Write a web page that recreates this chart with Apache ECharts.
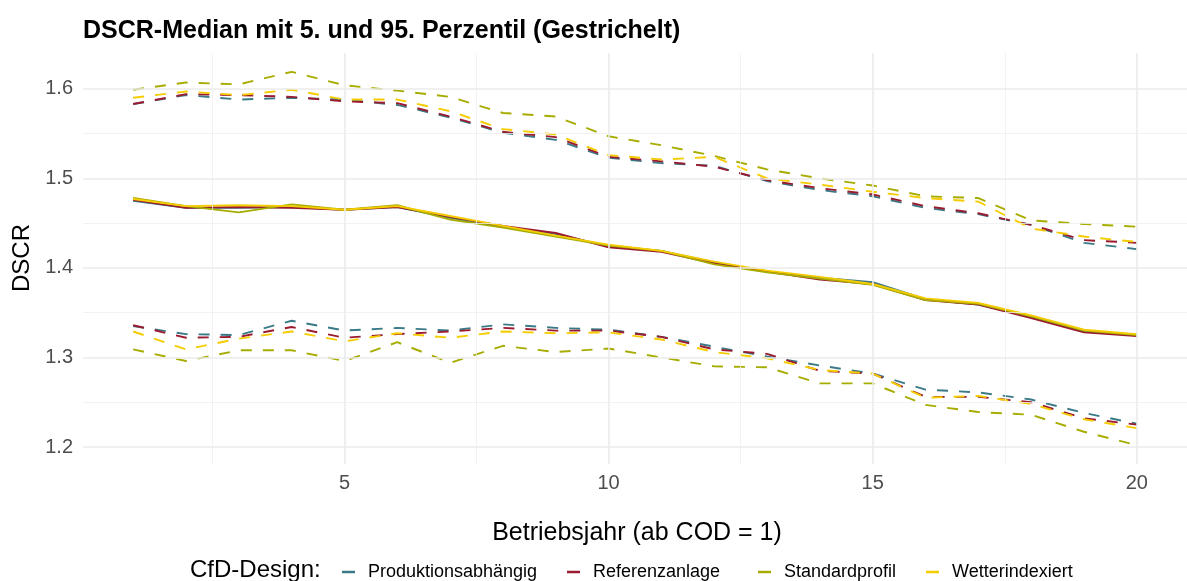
<!DOCTYPE html>
<html><head><meta charset="utf-8">
<script src="https://cdn.jsdelivr.net/npm/echarts@6/dist/echarts.min.js"></script>
<style>html,body{margin:0;padding:0;background:#fff}#c{width:1187px;height:581px}</style>
</head><body><div id="c"></div><script>
const years = [1,2,3,4,5,6,7,8,9,10,11,12,13,14,15,16,17,18,19,20];
const designs = ['Produktionsabhängig','Referenzanlage','Standardprofil','Wetterindexiert'];
const colors = ['#3A7A86','#9B1B30','#A7AD00','#F5CC00'];

const prodMed = [1.475,1.467,1.467,1.468,1.465,1.468,1.456,1.446,1.438,1.424,1.419,1.406,1.396,1.389,1.384,1.365,1.359,1.345,1.329,1.325];
const refMed  = [1.476,1.467,1.468,1.467,1.465,1.468,1.457,1.447,1.439,1.423,1.418,1.405,1.396,1.387,1.382,1.364,1.359,1.344,1.328,1.324];
const stdMed  = [1.478,1.469,1.462,1.471,1.465,1.470,1.454,1.445,1.435,1.425,1.419,1.404,1.395,1.388,1.381,1.364,1.360,1.346,1.330,1.325];
const wetMed  = [1.477,1.469,1.470,1.469,1.465,1.469,1.458,1.447,1.436,1.426,1.419,1.407,1.397,1.390,1.382,1.366,1.361,1.347,1.331,1.326];

const prodP95 = [1.583,1.593,1.588,1.590,1.588,1.582,1.568,1.551,1.543,1.523,1.517,1.514,1.497,1.487,1.480,1.467,1.460,1.448,1.428,1.421];
const refP95  = [1.583,1.594,1.593,1.591,1.586,1.584,1.569,1.552,1.546,1.524,1.519,1.513,1.498,1.489,1.482,1.469,1.461,1.448,1.431,1.428];
const stdP95  = [1.599,1.607,1.605,1.619,1.604,1.598,1.591,1.573,1.569,1.547,1.537,1.525,1.510,1.500,1.492,1.480,1.478,1.453,1.449,1.446];
const wetP95  = [1.590,1.597,1.593,1.599,1.588,1.588,1.575,1.555,1.549,1.526,1.521,1.524,1.500,1.493,1.485,1.478,1.474,1.444,1.435,1.429];

const prodP5 = [1.335,1.326,1.325,1.341,1.330,1.333,1.330,1.337,1.333,1.331,1.323,1.312,1.301,1.291,1.282,1.264,1.261,1.253,1.238,1.226];
const refP5  = [1.336,1.322,1.323,1.334,1.322,1.326,1.329,1.333,1.330,1.330,1.323,1.309,1.304,1.285,1.282,1.256,1.256,1.250,1.232,1.225];
const stdP5  = [1.309,1.296,1.308,1.308,1.296,1.317,1.294,1.313,1.306,1.310,1.300,1.290,1.289,1.271,1.271,1.247,1.239,1.236,1.217,1.202];
const wetP5  = [1.329,1.309,1.321,1.329,1.318,1.327,1.322,1.329,1.327,1.328,1.320,1.306,1.299,1.286,1.282,1.255,1.257,1.248,1.231,1.221];

const xTicks = [5,10,15,20];
const xMinor = [2.5,7.5,12.5,17.5];
const yTicks = [1.2,1.3,1.4,1.5,1.6];
const yMinor = [1.25,1.35,1.45,1.55];

const medians = [prodMed, refMed, stdMed, wetMed];
const p5s = [prodP5, refP5, stdP5, wetP5];
const p95s = [prodP95, refP95, stdP95, wetP95];

const FONT = '"Liberation Sans", Arial, sans-serif';
const pair = (arr) => years.map((y,i) => [y, arr[i]]);

const gridLines = [];
yMinor.forEach(v => gridLines.push({yAxis: v, lineStyle: {width: 0.8, color: '#EFEFEF', type: 'solid'}}));
xMinor.forEach(v => gridLines.push({xAxis: v, lineStyle: {width: 0.8, color: '#EFEFEF', type: 'solid'}}));
yTicks.forEach(v => gridLines.push({yAxis: v, lineStyle: {width: 1.6, color: '#EBEBEB', type: 'solid'}}));
xTicks.forEach(v => gridLines.push({xAxis: v, lineStyle: {width: 1.6, color: '#EBEBEB', type: 'solid'}}));

const series = [{
  type: 'line', data: [], silent: true, z: 0,
  markLine: {silent: true, symbol: 'none', animation: false, label: {show: false}, data: gridLines}
}];
const addGroup = (arrs, dashed) => {
  arrs.forEach((arr, k) => {
    series.push({
      type: 'line', name: designs[k], data: pair(arr), symbol: 'none', showSymbol: false,
      color: colors[k], z: 2,
      lineStyle: {width: 1.9, color: colors[k], type: dashed ? [11, 11] : 'solid'},
      emphasis: {disabled: true}, animation: false
    });
  });
};
addGroup(medians, false);
addGroup(p5s, true);
addGroup(p95s, true);

const legendText = [368, 593, 784, 952];
const legends = designs.map((d, k) => ({
  data: [{name: d, icon: 'rect'}],
  left: legendText[k] - 31, top: 558,
  orient: 'horizontal', selectedMode: false,
  itemWidth: 13, itemHeight: 2.5,
  textStyle: {fontSize: 18, color: '#000', fontFamily: FONT, padding: [0, 0, 0, 8]}
}));

const chart = echarts.init(document.getElementById('c'), null, {renderer: 'canvas'});
chart.setOption({
  animation: false,
  backgroundColor: '#fff',
  textStyle: {fontFamily: FONT},
  grid: {left: 83, top: 53, width: 1107, height: 411, containLabel: false},
  xAxis: {
    type: 'value', min: 0.05, max: 20.95,
    axisLine: {show: false}, axisTick: {show: false}, splitLine: {show: false},
    axisLabel: {customValues: xTicks, fontSize: 20, color: '#4D4D4D', margin: 9, fontFamily: FONT}
  },
  yAxis: {
    type: 'value', min: 1.181, max: 1.640,
    axisLine: {show: false}, axisTick: {show: false}, splitLine: {show: false},
    axisLabel: {customValues: yTicks, fontSize: 20, color: '#4D4D4D', margin: 10, fontFamily: FONT,
      formatter: v => Number(v).toFixed(1)}
  },
  legend: legends,
  graphic: [
    {type: 'text', left: 83, top: 19, style: {text: 'DSCR-Median mit 5. und 95. Perzentil (Gestrichelt)', font: 'bold 25px ' + FONT, fill: '#000'}},
    {type: 'text', x: 637, y: 533, style: {text: 'Betriebsjahr (ab COD = 1)', font: '25px ' + FONT, fill: '#000', align: 'center', verticalAlign: 'middle'}},
    {type: 'text', x: 22, y: 258, rotation: Math.PI / 2, style: {text: 'DSCR', font: '24px ' + FONT, fill: '#000', align: 'center', verticalAlign: 'middle'}},
    {type: 'text', left: 190, top: 558, style: {text: 'CfD-Design:', font: '24px ' + FONT, fill: '#000'}}
  ],
  series: series
});
</script></body></html>
